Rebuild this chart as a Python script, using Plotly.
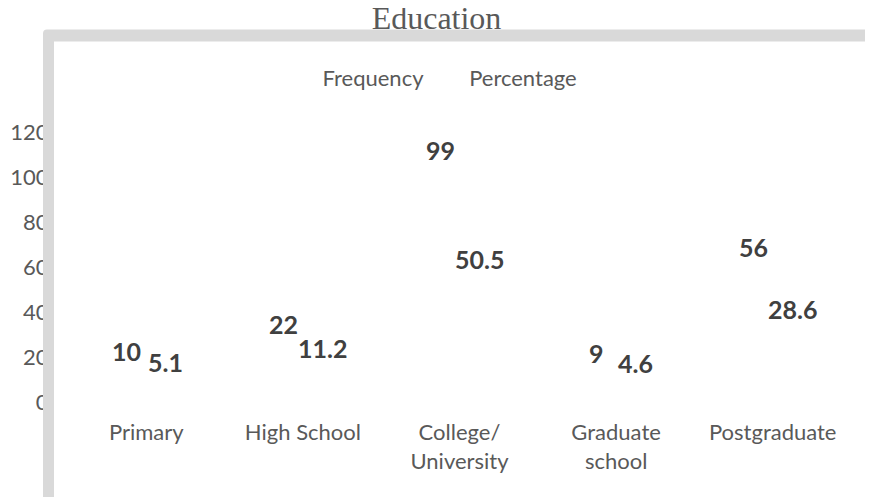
import plotly.graph_objects as go

categories = ["Primary", "High School", "College/<br>University", "Graduate<br>school", "Postgraduate"]
frequency = [10, 22, 99, 9, 56]
percentage = [5.1, 11.2, 50.5, 4.6, 28.6]
y_ticks = [0, 20, 40, 60, 80, 100, 120]

OFF = 8  # page body margin
W, H = 865, 489
L, R, T, B = 60, 22, 124, 95
PW, PH = W - L - R, H - T - B

def px_x(p):
    return (p - OFF - L) / PW

def px_y(p):
    return (H - B - (p - OFF)) / PH

TXT = "#595959"
LBL = "#404040"
FONT = "Lato"

fig = go.Figure()
fig.add_trace(go.Bar(x=categories, y=frequency, name="Frequency",
                     marker=dict(color="rgba(0,0,0,0)", line=dict(width=0)),
                     hoverinfo="skip"))
fig.add_trace(go.Bar(x=categories, y=percentage, name="Percentage",
                     marker=dict(color="rgba(0,0,0,0)", line=dict(width=0)),
                     hoverinfo="skip"))

annotations = []
for series, shift in ((frequency, -19.5), (percentage, 19.5)):
    for c, v in zip(categories, series):
        annotations.append(dict(x=c, y=v, xref="x", yref="y", text=str(v),
                                showarrow=False, xshift=shift, yshift=29,
                                xanchor="center", yanchor="middle",
                                font=dict(family=FONT, size=25, color=LBL, weight="bold")))

# frame (light grey border with rounded corner)
x0, x1 = px_x(43), px_x(54)
y0, y1 = px_y(29.5), px_y(41.5)
xr, yb = px_x(880), px_y(505)
xc, yc = px_x(47), px_y(33.5)
path = (f"M {x0},{yb} L {x0},{yc} Q {x0},{y0} {xc},{y0} L {xr},{y0} "
        f"L {xr},{y1} L {x1},{y1} L {x1},{yb} Z")
shapes = [dict(type="path", xref="paper", yref="paper", path=path,
               fillcolor="#d9d9d9", line=dict(width=0), layer="above")]

fig.update_layout(
    width=W, height=H,
    margin=dict(l=L, r=R, t=T, b=B, pad=0, autoexpand=False),
    paper_bgcolor="white", plot_bgcolor="white",
    barmode="group", bargap=0.5, bargroupgap=0,
    title=dict(text="Education", x=(436.5 - OFF) / W, xref="container", xanchor="center",
               y=1 - 10 / H, yref="container", yanchor="middle",
               font=dict(family="Liberation Serif", size=32, color=TXT)),
    legend=dict(orientation="h", x=px_x(282.5), xanchor="left", y=px_y(78), yanchor="middle",
                font=dict(family=FONT, size=22, color=TXT), bgcolor="rgba(0,0,0,0)"),
    xaxis=dict(showgrid=False, showline=False, zeroline=False, ticks="outside", ticklen=11,
               tickcolor="rgba(0,0,0,0)", tickfont=dict(family=FONT, size=22, color=TXT),
               range=[-0.5, 4.5], automargin=False),
    yaxis=dict(range=[0, 120], tickvals=y_ticks, showgrid=False, showline=False, zeroline=False,
               ticks="outside", ticklen=14, tickcolor="rgba(0,0,0,0)",
               tickfont=dict(family=FONT, size=22, color=TXT), automargin=False),
    annotations=annotations,
    shapes=shapes,
    showlegend=True,
)

fig.write_html("out.html")
